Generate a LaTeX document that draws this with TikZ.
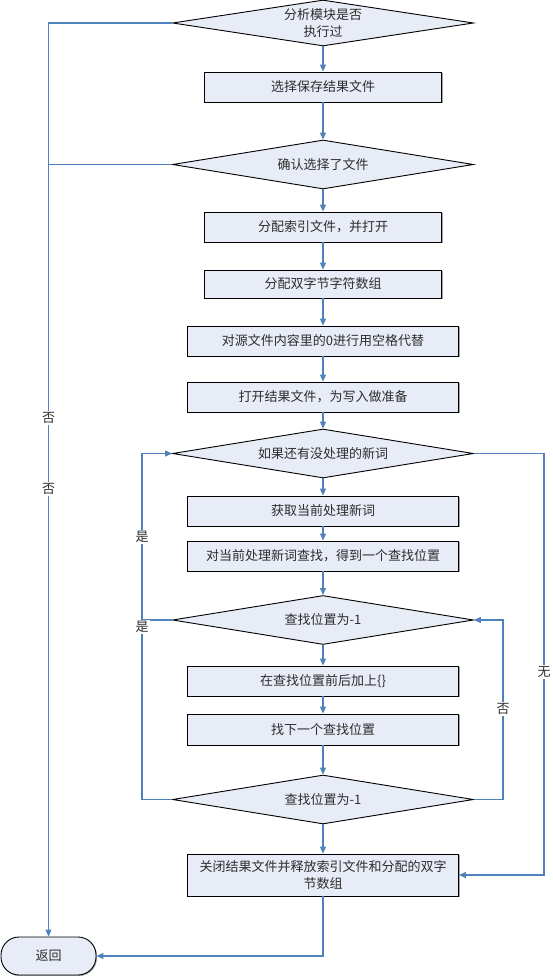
\documentclass[tikz,border=0pt]{standalone}
\usepackage{fontspec}
\setmainfont{Noto Sans CJK SC}
\usetikzlibrary{shapes.geometric,arrows.meta,shadows}
\definecolor{boxfill}{RGB}{232,236,246}
\definecolor{connc}{RGB}{79,129,189}
\definecolor{txt}{RGB}{45,45,45}
\begin{document}
\begin{tikzpicture}[x=1pt,y=-1pt,
  every node/.style={font=\fontsize{13}{17}\selectfont, text=txt},
  proc/.style={draw=black, line width=0.9pt, fill=boxfill, minimum height=30pt, inner sep=0pt, align=center,
    drop shadow={shadow xshift=1pt, shadow yshift=-1pt, fill=black!60, opacity=0.6}},
  narrow/.style={proc, minimum width=237pt},
  wide/.style={proc, minimum width=271pt},
  dia/.style={draw=black, line width=0.9pt, fill=boxfill, diamond, aspect=6.5, inner sep=0pt,
    minimum width=301pt, minimum height=49pt, align=center},
  term/.style={draw=black, line width=0.9pt, fill=boxfill, rounded corners=18pt,
    minimum width=95pt, minimum height=38pt, inner sep=0pt,
    drop shadow={shadow xshift=1pt, shadow yshift=-1pt, fill=black!60, opacity=0.6}},
  flow/.style={draw=connc, line width=1.2pt, -{Triangle[length=7pt,width=6pt]}},
  flowline/.style={draw=connc, line width=1.2pt},
  lab/.style={fill=white, inner sep=1pt}
]
\useasboundingbox (0,0) rectangle (552,976);

\node[dia, minimum height=46pt] (d1) at (323,23) {分析模块是否\\执行过};
\node[narrow] (b1) at (323,87) {选择保存结果文件};
\node[dia] (d2) at (323,164.5) {确认选择了文件};
\node[narrow] (b2) at (323,227) {分配索引文件，并打开};
\node[narrow, minimum height=28pt] (b3) at (323,284) {分配双字节字符数组};
\node[wide] (b4) at (323,341) {对源文件内容里的0进行用空格代替};
\node[wide] (b5) at (323,397) {打开结果文件，为写入做准备};
\node[dia] (d3) at (323,453.5) {如果还有没处理的新词};
\node[wide] (b6) at (323,511) {获取当前处理新词};
\node[wide] (b7) at (323,556) {对当前处理新词查找，得到一个查找位置};
\node[dia] (d4) at (323,620) {查找位置为-1};
\node[wide] (b8) at (323,681) {在查找位置前后加上\{\}};
\node[wide, minimum height=31pt] (b9) at (323,729.5) {找下一个查找位置};
\node[dia] (d5) at (323,799.5) {查找位置为-1};
\node[wide, minimum height=42pt] (b10) at (323,875) {关闭结果文件并释放索引文件和分配的双字\\节数组};
\node[term] (ret) at (48.5,956) {返回};

% main flow
\draw[flow] (d1) -- (b1);
\draw[flow] (b1) -- (d2);
\draw[flow] (d2) -- (b2);
\draw[flow] (b2) -- (b3);
\draw[flow] (b3) -- (b4);
\draw[flow] (b4) -- (b5);
\draw[flow] (b5) -- (d3);
\draw[flow] (d3) -- (b6);
\draw[flow] (b6) -- (b7);
\draw[flow] (b7) -- (d4);
\draw[flow] (d4) -- (b8);
\draw[flow] (b8) -- (b9);
\draw[flow] (b9) -- (d5);
\draw[flow] (d5) -- (b10);

% left "no" line
\coordinate (L1) at (48.5,23);
\draw[flow] (d1.west) -- (L1) -- (ret.north);
\draw[flowline] (d2.west) -- (d2.west -| L1);
\node[lab] (n1) at (48.5,418) {否};
\node[lab] (n2) at (48.5,489) {否};

% left "yes" loop
\coordinate (P) at (142,799.5);
\draw[flow] (d5.west) -- (P) -- (P |- d3.west) -- (d3.west);
\draw[flowline] (d4.west) -- (d4.west -| P);
\node[lab] (y1) at (142,537) {是};
\node[lab] (y2) at (142,627) {是};

% right inner "no" loop
\coordinate (Q) at (503,799.5);
\draw[flow] (d5.east) -- (Q) -- (Q |- d4.east) -- (d4.east);
\node[lab] (n3) at (503,709) {否};

% right outer "none" line
\coordinate (R) at (544,453.5);
\draw[flow] (d3.east) -- (R) -- (R |- b10.east) -- (b10.east);
\node[lab] (w1) at (544,672) {无};

% to return
\draw[flow] (b10.south) -- (b10.south |- ret.east) -- (ret.east);
\end{tikzpicture}
\end{document}
